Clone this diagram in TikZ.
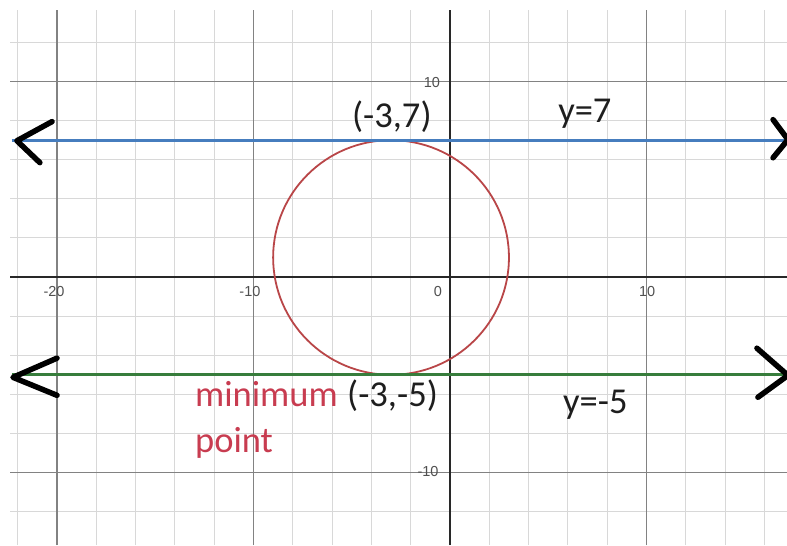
\documentclass[tikz,border=0pt]{standalone}
\usepackage{fontspec}
\setmainfont{Carlito}
\newfontfamily\tickfont{Liberation Sans}
\definecolor{minorc}{RGB}{216,216,216}
\definecolor{majorc}{RGB}{130,130,130}
\definecolor{axisc}{RGB}{40,40,40}
\definecolor{bluec}{RGB}{70,125,190}
\definecolor{greenc}{RGB}{55,125,60}
\definecolor{circc}{RGB}{185,70,72}
\definecolor{redtxt}{RGB}{200,60,80}
\definecolor{tickc}{RGB}{80,80,80}
\definecolor{txtc}{RGB}{30,30,30}
\begin{document}
\begin{tikzpicture}[x=19.65pt,y=19.55pt,
  minorgrid/.style={draw=minorc,line width=1pt},
  majorgrid/.style={draw=majorc,line width=1.5pt},
  axisline/.style={draw=axisc,line width=2pt},
  ticklbl/.style={font=\tickfont\fontsize{14.5pt}{16pt}\selectfont,text=tickc,inner sep=0pt},
  biglbl/.style={font=\fontsize{36.5pt}{40pt}\selectfont,text=txtc,inner sep=0pt,anchor=base west},
  chev/.style={draw=black,line width=5.5pt,line cap=round,line join=round}]
\useasboundingbox (-22.90,-13.71) rectangle (17.15,14.17);
\clip (-22.90,-13.71) rectangle (17.15,14.17);
\fill[white] (-22.90,-13.71) rectangle (17.15,14.17);
% grid
\foreach \i in {-22,-20,...,16} \draw[minorgrid] (\i,-13.71) -- (\i,13.66);
\foreach \j in {-12,-10,...,12} \draw[minorgrid] (-22.39,\j) -- (17.15,\j);
\foreach \i in {-20,-10,10} \draw[majorgrid] (\i,-13.71) -- (\i,13.66);
\foreach \j in {-10,10} \draw[majorgrid] (-22.39,\j) -- (17.15,\j);
% axes
\draw[axisline] (0,-13.71) -- (0,13.66);
\draw[axisline] (-22.39,0) -- (17.15,0);
% tick labels
\node[ticklbl] (tm20) at (-20.15,-0.74) {-20};
\node[ticklbl] (tm10) at (-10.18,-0.74) {-10};
\node[ticklbl] (t0) at (-0.61,-0.74) {0};
\node[ticklbl] (t10) at (10.03,-0.74) {10};
\node[ticklbl] (ty10) at (-0.92,9.97) {10};
\node[ticklbl] (tym10) at (-1.12,-9.97) {-10};
% circle
\draw[circc,line width=1.8pt] (-3,1) circle [radius=6];
% horizontal lines
\draw[bluec,line width=2.8pt] (-22.29,7) -- (17.3,7);
\draw[greenc,line width=2.8pt] (-22.29,-5) -- (17.3,-5);
% chevrons
\draw[chev] (-20.25,7.95) -- (-22.04,6.97) -- (-20.87,5.85);
\draw[chev] (16.44,8.05) -- (17.20,7.03) -- (16.44,6.10);
\draw[chev] (-20.0,-4.15) -- (-22.24,-5.13) -- (-20.0,-6.05);
\draw[chev] (15.62,-3.64) -- (17.20,-5.03) -- (15.67,-6.15);
% labels
\node[biglbl] (ptop) at (-4.99,7.67) {(-3,7)};
\node[biglbl] (ytop) at (5.50,7.88) {y=7};
\node[biglbl,text=redtxt] (minl) at (-12.98,-6.60) {minimum};
\node[biglbl] (pbot) at (-5.24,-6.60) {(-3,-5)};
\node[biglbl,text=redtxt] (pointl) at (-12.98,-8.95) {point};
\node[biglbl] (ybot) at (5.75,-6.96) {y=-5};
\end{tikzpicture}
\end{document}
